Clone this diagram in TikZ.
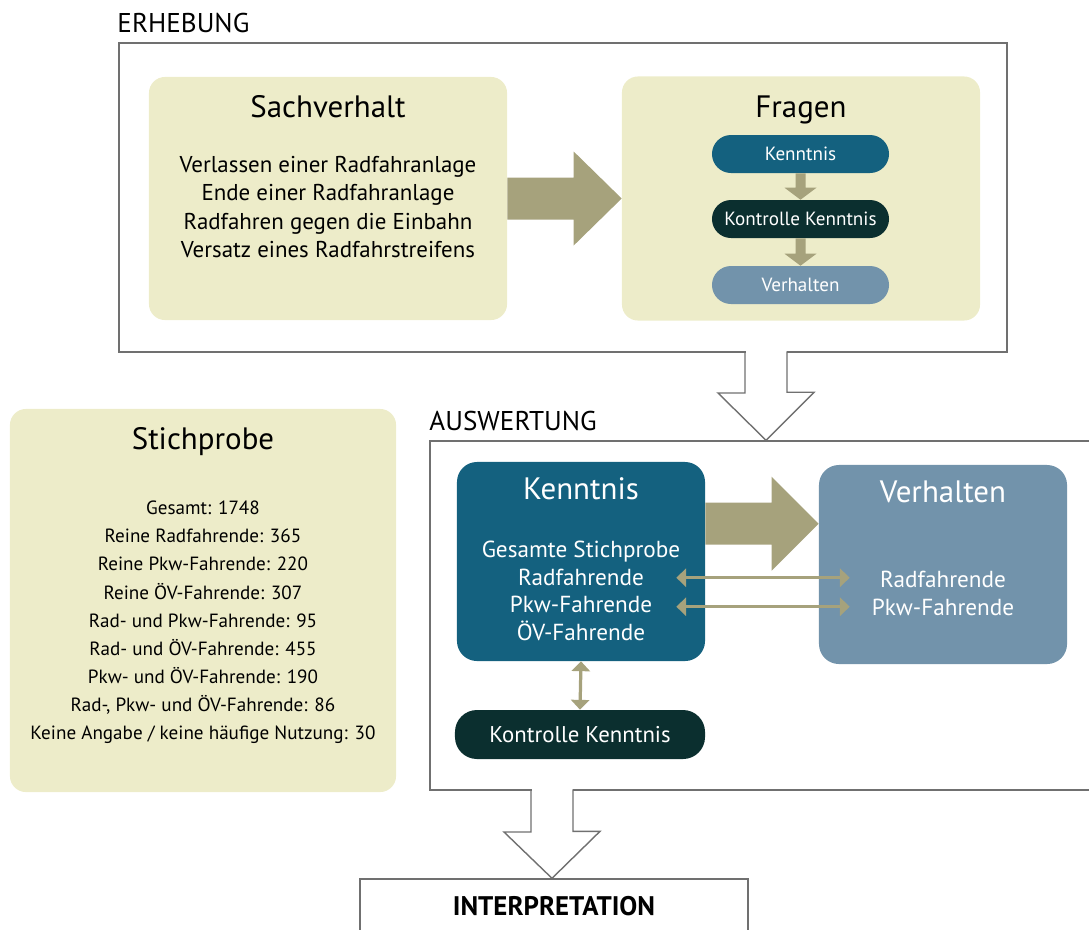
\documentclass[tikz,border=0pt]{standalone}
\usepackage{fontspec}
\setmainfont{PT Sans}
\usetikzlibrary{arrows.meta, positioning, calc}
\definecolor{paneltan}{HTML}{EDECC9}
\definecolor{arrowtan}{HTML}{A6A27C}
\definecolor{knowblue}{HTML}{14617F}
\definecolor{ctrldark}{HTML}{0B2F2F}
\definecolor{behavblue}{HTML}{7293AB}
\definecolor{framegray}{HTML}{707070}

\begin{document}
\begin{tikzpicture}[
  x=0.025cm, y=-0.025cm,
  >={Triangle[length=7pt, width=13pt]},
  frame/.style={draw=framegray, line width=1pt, inner sep=0pt},
  framelabel/.style={anchor=base west, inner sep=0pt,
    font=\fontsize{19.3}{23}\selectfont},
  panel/.style={fill=#1, rounded corners=0.4cm, inner sep=0pt},
  ptitle/.style={anchor=base, inner sep=0pt, text=#1,
    font=\fontsize{22}{26}\selectfont},
  ptitle/.default=black,
  % base of a multi-line node = last line
  pbody/.style={anchor=base, inner sep=0pt, align=center, text=#1,
    font=\fontsize{16.3}{20.2}\selectfont},
  pbody/.default=black,
  pill/.style={fill=#1, rounded corners=0.475cm, text=white,
    minimum width=4.425cm, minimum height=0.95cm, inner sep=0pt,
    font=\fontsize{13.6}{16}\selectfont},
  fat/.style={fill=arrowtan},
  link/.style={<->, draw=arrowtan, line width=2.3pt},
  hollow/.style={draw=framegray, line width=1pt, line join=miter},
]

\useasboundingbox (0,0) rectangle (1089,929);
\clip (0,0) rectangle (1089,929);

% ===== Erhebung =====
\node[frame, minimum width=22.2cm, minimum height=7.725cm] (erh) at (563,197.5) {};
\node[framelabel] at ($(erh.north west)+(-1,-10)$) {ERHEBUNG};

% Sachverhalt
\node[panel=paneltan, minimum width=8.95cm, minimum height=6.075cm] (sach) at (328,198.5) {};
\node[ptitle] at ($(sach.north)+(0,41)$) {Sachverhalt};
\node[pbody] at ($(sach.north)+(0,181)$)
  {Verlassen einer Radfahranlage\\Ende einer Radfahranlage\\
   Radfahren gegen die Einbahn\\Versatz eines Radfahrstreifens};

% Fragen
\node[panel=paneltan, minimum width=8.95cm, minimum height=6.1cm] (fragen) at (801,198.5) {};
\node[ptitle] at ($(fragen.north)+(0,41)$) {Fragen};
\node[pill=knowblue] (qkenn) at (800.5,154) {Kenntnis};
\node[pill=ctrldark] (qkontr) at (800.5,219) {Kontrolle Kenntnis};
\node[pill=behavblue] (qverh) at (800.5,285) {Verhalten};

% Sachverhalt -> Fragen
\fill[fat] ($(sach.east)+(0,-21)$) -- ($(fragen.west)+(-48,-21)$)
  -- ($(fragen.west)+(-48,-47)$) -- (fragen.west) -- ($(fragen.west)+(-48,47)$)
  -- ($(fragen.west)+(-48,21)$) -- ($(sach.east)+(0,21)$) -- cycle;

% pill arrows
\fill[fat] ($(qkenn.south)+(-5,0)$) -- ($(qkontr.north)+(-5,-12)$)
  -- ($(qkontr.north)+(-16,-12)$) -- (qkontr.north) -- ($(qkontr.north)+(16,-12)$)
  -- ($(qkontr.north)+(5,-12)$) -- ($(qkenn.south)+(5,0)$) -- cycle;
\fill[fat] ($(qkontr.south)+(-5,0)$) -- ($(qverh.north)+(-5,-12)$)
  -- ($(qverh.north)+(-16,-12)$) -- (qverh.north) -- ($(qverh.north)+(16,-12)$)
  -- ($(qverh.north)+(5,-12)$) -- ($(qkontr.south)+(5,0)$) -- cycle;

% ===== Stichprobe =====
\node[panel=paneltan, minimum width=9.65cm, minimum height=9.575cm] (stich) at (203,600.5) {};
\node[ptitle] at ($(stich.north)+(0,41)$) {Stichprobe};
\node[pbody, font=\fontsize{13.6}{20}\selectfont] at ($(stich.north)+(0,331)$)
  {Gesamt: 1748\\Reine Radfahrende: 365\\Reine Pkw-Fahrende: 220\\
   Reine ÖV-Fahrende: 307\\Rad- und Pkw-Fahrende: 95\\Rad- und ÖV-Fahrende: 455\\
   Pkw- und ÖV-Fahrende: 190\\Rad-, Pkw- und ÖV-Fahrende: 86\\
   Keine Angabe / keine häufige Nutzung: 30};

% ===== Auswertung =====
\node[frame, minimum width=16.75cm, minimum height=8.725cm] (ausw) at (765,615.5) {};
\node[framelabel] at ($(ausw.north west)+(0,-10)$) {AUSWERTUNG};

% Kenntnis
\node[panel=knowblue, rounded corners=0.5cm, minimum width=6.2cm, minimum height=4.975cm] (kenn) at (581,561.5) {};
\node[ptitle=white, font=\fontsize{22}{26}\selectfont] at ($(kenn.north)+(0,38)$) {Kenntnis};
\node[pbody=white, font=\fontsize{16.5}{19.8}\selectfont] at ($(kenn.north)+(0,179)$)
  {Gesamte Stichprobe\\Radfahrende\\Pkw-Fahrende\\ÖV-Fahrende};

% Verhalten
\node[panel=behavblue, rounded corners=0.5cm, minimum width=6.2cm, minimum height=4.975cm] (verh) at (943,564.5) {};
\node[ptitle=white, font=\fontsize{22}{26}\selectfont] at ($(verh.north)+(0,38)$) {Verhalten};
\node[pbody=white, font=\fontsize{16.5}{19.8}\selectfont] at ($(verh.north)+(0,151)$)
  {Radfahrende\\Pkw-Fahrende};

% Kontrolle Kenntnis
\node[panel=ctrldark, rounded corners=0.55cm, minimum width=6.25cm, minimum height=1.225cm,
      text=white, font=\fontsize{16.2}{19}\selectfont] (kontr) at (580,734.5) {Kontrolle Kenntnis};

% Kenntnis -> Verhalten
\coordinate (kvstart) at ($(kenn.north east)+(0,62)$);
\coordinate (kvtip) at (verh.west |- kvstart);
\fill[fat] ($(kvstart)+(0,-21)$) -- ($(kvtip)+(-47,-21)$) -- ($(kvtip)+(-47,-47)$)
  -- (kvtip) -- ($(kvtip)+(-47,47)$) -- ($(kvtip)+(-47,21)$) -- ($(kvstart)+(0,21)$) -- cycle;

% links
\draw[link] ($(kenn.north east)+(-29,116)$) -- ($(verh.north west)+(31,113)$);
\draw[link] ($(kenn.north east)+(-29,145)$) -- ($(verh.north west)+(31,142)$);
\draw[link] (kenn.south) -- (kontr.north);

% ===== Interpretation =====
\node[frame, minimum width=9.7cm, minimum height=1.35cm,
      font=\fontsize{19.1}{23}\selectfont\bfseries] (interp) at (554,906) {INTERPRETATION};

% ===== Hollow arrows =====
\coordinate (down1) at (766,352);
\fill[white] ($(down1)+(-20.5,-2)$) rectangle ($(down1)+(20.5,2)$);
\draw[hollow] ($(down1)+(-21,0)$) -- ++(0,41) -- ++(-27,0) -- (down1 |- ausw.north)
  -- ++(48,-48) -- ++(-27,0) -- ++(0,-41);

\coordinate (down2) at (552,790);
\fill[white] ($(down2)+(-20.5,-2)$) rectangle ($(down2)+(20.5,2)$);
\draw[hollow] ($(down2)+(-21,0)$) -- ++(0,42) -- ++(-27,0) -- (down2 |- interp.north)
  -- ++(48,-47) -- ++(-27,0) -- ++(0,-42);

\end{tikzpicture}
\end{document}
